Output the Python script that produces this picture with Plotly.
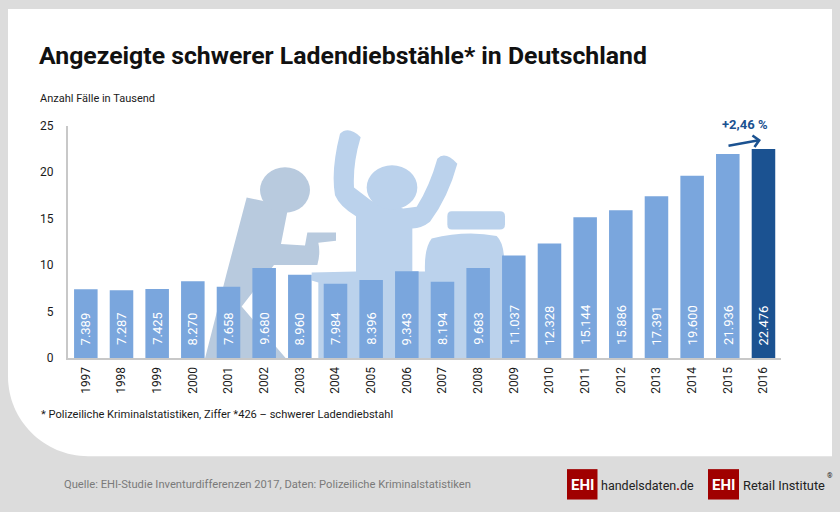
import plotly.graph_objects as go

years = [str(y) for y in range(1997, 2017)]
values = [7.389, 7.287, 7.425, 8.270, 7.658, 9.680, 8.960, 7.984, 8.396, 9.343,
          8.194, 9.683, 11.037, 12.328, 15.144, 15.886, 17.391, 19.600, 21.936, 22.476]
labels = ["7.389", "7.287", "7.425", "8.270", "7.658", "9.680", "8.960", "7.984", "8.396", "9.343",
          "8.194", "9.683", "11.037", "12.328", "15.144", "15.886", "17.391", "19.600", "21.936", "22.476"]
bar_colors = ["#7aa6dd"] * 19 + ["#1b5291"]

W, H = 840, 512
FONT = "Roboto"
TOP, PH = 6, 500


def X(v):
    return v / W


def Y(v):
    return 1 - (v - TOP) / PH


def path(cmds):
    out = []
    for c in cmds:
        if c[0] == "Z":
            out.append("Z")
        else:
            out.append(c[0] + " ".join(f"{X(p[0]):.5f},{Y(p[1]):.5f}" for p in c[1:]))
    return " ".join(out)


def z(x, y):
    return (200 + x / 3, 110 + y / 3)


def shape(cmds, color):
    return dict(type="path", path=path(cmds), xref="paper", yref="paper",
                fillcolor=color, line=dict(width=0), layer="below")


def ellipse(x0, y0, x1, y1, color):
    return dict(type="circle", xref="paper", yref="paper", x0=X(x0), x1=X(x1), y0=Y(y1), y1=Y(y0),
                fillcolor=color, line=dict(width=0), layer="below")


def text(x, y, s, size, color="#1a1a1a", anchor="left", family=FONT, **kw):
    return dict(x=X(x), y=Y(y), xref="paper", yref="paper", text=s, showarrow=False,
                xanchor=anchor, yanchor="middle", font=dict(size=size, color=color, family=family),
                borderpad=0, **kw)


PANEL = [("M", (8, 8)), ("L", (832, 8)), ("L", (832, 457)), ("L", (88, 457)),
         ("C", (44, 457), (8, 421), (8, 377)), ("Z",)]

THIEF = "#b8cade"
PERSON = "#bbd2ec"

thief_body = [("M", z(140, 262)), ("L", z(190, 272)), ("L", z(262, 305)), ("L", z(243, 402)),
              ("L", z(315, 406)), ("L", z(322, 367)), ("L", z(408, 367)), ("L", z(408, 392)),
              ("L", z(355, 398)), ("Q", z(362, 430), z(352, 465)), ("L", z(222, 465)),
              ("L", z(125, 590)), ("L", z(258, 747)), ("L", z(15, 747)), ("L", z(80, 490)), ("Z",)]

person_body = [("M", z(468, 318)), ("Q", z(420, 290), z(405, 255)), ("Q", z(392, 180), z(420, 70)),
               ("Q", z(445, 45), z(482, 80)), ("Q", z(458, 160), z(462, 232)), ("L", z(515, 272)),
               ("L", z(610, 295)), ("L", z(650, 290)), ("Q", z(690, 225), z(712, 145)),
               ("Q", z(735, 120), z(772, 160)), ("Q", z(745, 260), z(690, 335)),
               ("Q", z(665, 355), z(637, 355)), ("L", z(637, 485)), ("L", z(675, 485)),
               ("Q", z(672, 415), z(695, 385)), ("Q", z(800, 360), z(890, 378)),
               ("Q", z(908, 395), z(912, 437)), ("L", z(912, 747)), ("L", z(355, 747)),
               ("L", z(355, 518)), ("L", z(335, 512)), ("L", z(335, 488)), ("L", z(468, 485)), ("Z",)]

chair_top = [("M", z(755, 303)), ("L", z(900, 303)), ("Q", z(915, 303), z(915, 318)), ("L", z(915, 342)),
             ("Q", z(915, 358), z(900, 358)), ("L", z(755, 358)), ("Q", z(742, 358), z(742, 342)),
             ("L", z(742, 318)), ("Q", z(742, 303), z(755, 303)), ("Z",)]

shapes = [
    shape(PANEL, "#ffffff"),
    shape(thief_body, THIEF),
    ellipse(*z(180, 171), *z(330, 308), THIEF),
    shape(person_body, PERSON),
    ellipse(*z(500, 165), *z(652, 298), PERSON),
    shape(chair_top, PERSON),
    dict(type="rect", xref="paper", yref="paper", x0=X(567), x1=X(597.5), y0=Y(500.5), y1=Y(470),
         fillcolor="#a00000", line=dict(width=0), layer="below"),
    dict(type="rect", xref="paper", yref="paper", x0=X(708), x1=X(739), y0=Y(500.5), y1=Y(470),
         fillcolor="#a00000", line=dict(width=0), layer="below"),
]

annotations = [
    text(37.5, 55, "<b>Angezeigte schwerer Ladendiebstähle* in Deutschland</b>", 24.8, "#111111"),
    text(39, 97.5, "Anzahl Fälle in Tausend", 11),
    text(40, 415, "* Polizeiliche Kriminalstatistiken, Ziffer *426 – schwerer Ladendiebstahl", 11.1),
    text(63, 485, "Quelle: EHI-Studie Inventurdifferenzen 2017, Daten: Polizeiliche Kriminalstatistiken", 11.2, "#7a7a7a"),
    text(582, 486, "<b>EHI</b>", 15, "#ffffff", anchor="center"),
    text(723.5, 486, "<b>EHI</b>", 15, "#ffffff", anchor="center"),
    text(600, 486, "handelsdaten<span style='color:#a00000'><b>.</b></span>de", 12.5, "#222222"),
    text(742, 486, "Retail Institute", 12.8, "#222222"),
    text(825.5, 477, "®", 7, "#222222"),
    text(744.5, 124, "<b>+2,46 %</b>", 13, "#1b5291", anchor="center"),
    dict(x=X(761), y=Y(139.5), xref="paper", yref="paper", ax=-34, ay=6, axref="pixel", ayref="pixel",
         text="", showarrow=True, arrowhead=4, arrowsize=0.9, arrowwidth=2.5, arrowcolor="#1b5291"),
]
for i, lab in enumerate(labels):
    annotations.append(dict(x=i, y=0, xref="x", yref="y", text=lab, showarrow=False, textangle=-90,
                            xanchor="center", yanchor="bottom", yshift=11,
                            font=dict(size=13, color="#ffffff", family=FONT)))

fig = go.Figure(go.Bar(x=years, y=values, marker=dict(color=bar_colors, line=dict(width=0)),
                       width=0.66, hoverinfo="skip"))
fig.update_layout(
    width=W, height=H, autosize=False, margin=dict(l=0, r=0, t=0, b=0, pad=0),
    paper_bgcolor="#dcdcdc", plot_bgcolor="rgba(0,0,0,0)", showlegend=False,
    font=dict(family=FONT, size=12, color="#1a1a1a"),
    shapes=shapes, annotations=annotations,
    xaxis=dict(domain=[68 / W, 781.3 / W], type="category", tickangle=-90, ticks="", showgrid=False,
               showline=True, linecolor="#c8c8c8", linewidth=2, ticklabelstandoff=2,
               tickfont=dict(size=12, color="#1a1a1a"), range=[-0.5, 19.5], zeroline=False),
    yaxis=dict(domain=[Y(358.5), Y(125)], range=[0, 25], tickvals=[0, 5, 10, 15, 20, 25],
               ticks="", showgrid=False, zeroline=False, showline=True, linecolor="#c8c8c8", linewidth=2,
               ticklabelstandoff=10, tickfont=dict(size=12, color="#1a1a1a")),
)
fig.write_html("out.html", config=dict(displayModeBar=False),
               post_script="document.body.style.margin='0';document.body.style.overflow='hidden';")
